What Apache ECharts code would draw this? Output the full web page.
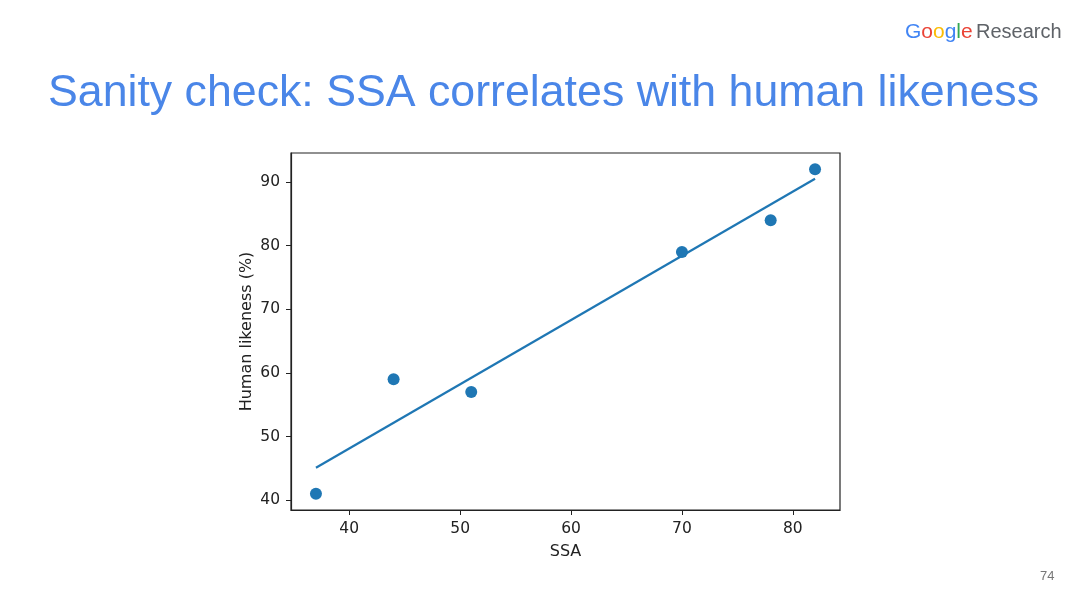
<!DOCTYPE html>
<html><head><meta charset="utf-8">
<script src="https://cdn.jsdelivr.net/npm/echarts@6/dist/echarts.min.js"></script>
<style>html,body{margin:0;padding:0;background:#fff}#c{width:1080px;height:608px}</style>
</head><body><div id="c"></div>
<script>
const titleText = 'Sanity check: SSA correlates with human likeness';
const ssa = [37, 44, 51, 70, 78, 82];
const humanLikeness = [41, 59, 57, 79, 84, 92];
const fitX = [37, 82];
const fitY = [45.1, 90.5];
const xTicks = [40, 50, 60, 70, 80];
const yTicks = [40, 50, 60, 70, 80, 90];
const pageNumber = '74';

const chart = echarts.init(document.getElementById('c'));
const axisFont = 'DejaVu Sans';
chart.setOption({
  animation: false,
  backgroundColor: '#fff',
  grid: {left: 291, right: 240, top: 153, bottom: 98, show: true, borderColor: '#222', borderWidth: 1.2, backgroundColor: 'transparent'},
  xAxis: {
    type: 'value', min: 34.75, max: 84.25,
    name: 'SSA', nameLocation: 'middle', nameGap: 34,
    nameTextStyle: {fontFamily: axisFont, fontSize: 16, color: '#222'},
    splitLine: {show: false},
    axisLine: {show: true, onZero: false, lineStyle: {color: '#222', width: 1.2}},
    axisTick: {show: true, length: 5, lineStyle: {color: '#222'}, customValues: xTicks},
    axisLabel: {fontFamily: axisFont, fontSize: 15.5, color: '#222', margin: 11, customValues: xTicks}
  },
  yAxis: {
    type: 'value', min: 38.45, max: 94.55,
    name: 'Human likeness (%)', nameLocation: 'middle', nameGap: 36, nameRotate: 90,
    nameMoveOverlap: false,
    nameTextStyle: {fontFamily: axisFont, fontSize: 16, color: '#222'},
    splitLine: {show: false},
    axisLine: {show: true, onZero: false, lineStyle: {color: '#222', width: 1.2}},
    axisTick: {show: true, length: 5, lineStyle: {color: '#222'}, customValues: yTicks},
    axisLabel: {fontFamily: axisFont, fontSize: 15.5, color: '#222', margin: 11, customValues: yTicks}
  },
  series: [
    {type: 'scatter', data: ssa.map((x, i) => [x, humanLikeness[i]]), symbolSize: 12,
     itemStyle: {color: '#1f77b4', opacity: 1}, z: 3},
    {type: 'line', data: fitX.map((x, i) => [x, fitY[i]]), symbol: 'none',
     lineStyle: {color: '#1f77b4', width: 2.2}, z: 2}
  ],
  graphic: [
    {type: 'text', left: 48, top: 71, style: {text: titleText, fontFamily: 'Liberation Sans', fontSize: 44.7, fill: '#4a86e8'}},
    {type: 'text', left: 905, top: 22, style: {
      text: '{b|G}{r|o}{y|o}{b|g}{g|l}{r|e} {s|Research}',
      rich: {
        b: {fill: '#4285f4', fontFamily: 'Liberation Sans', fontSize: 21},
        r: {fill: '#ea4335', fontFamily: 'Liberation Sans', fontSize: 21},
        y: {fill: '#fbbc05', fontFamily: 'Liberation Sans', fontSize: 21},
        g: {fill: '#34a853', fontFamily: 'Liberation Sans', fontSize: 21},
        s: {fill: '#5f6368', fontFamily: 'Liberation Sans', fontSize: 20}
      }}},
    {type: 'text', left: 1040, top: 570, style: {text: pageNumber, fontFamily: 'Liberation Sans', fontSize: 13, fill: '#777'}}
  ]
});
</script></body></html>
